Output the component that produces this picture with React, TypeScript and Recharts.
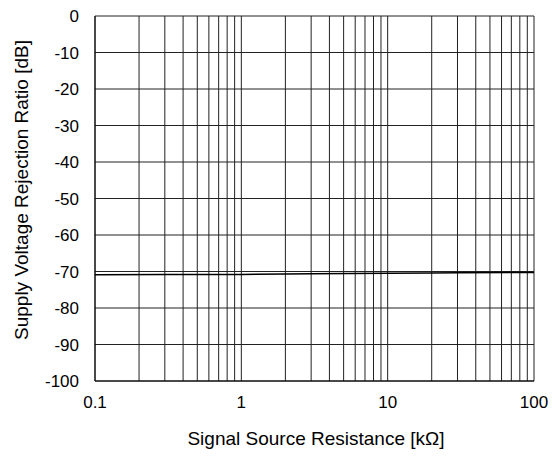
import React from 'react';
import { LineChart, Line, XAxis, YAxis, CartesianGrid } from 'recharts';

const resistance = [0.1, 0.3, 1, 3, 10, 30, 100];
const svrr = [-70.9, -70.85, -70.8, -70.65, -70.5, -70.35, -70.25];

const xTicks = [
  0.1, 0.2, 0.3, 0.4, 0.5, 0.6, 0.7, 0.8, 0.9,
  1, 2, 3, 4, 5, 6, 7, 8, 9,
  10, 20, 30, 40, 50, 60, 70, 80, 90, 100,
];
const xLabels = [0.1, 1, 10, 100];
const yTicks = [0, -10, -20, -30, -40, -50, -60, -70, -80, -90, -100];

const data = resistance.map((r, i) => ({ r, v: svrr[i] }));

const font = '"Liberation Sans", Arial, sans-serif';

const App: React.FC = () => {
  return (
    <div style={{ position: 'absolute', left: 0, top: 0, width: 552, height: 459, fontFamily: font }}>
      <LineChart width={552} height={459} data={data} margin={{ top: 16, right: 18, bottom: 0, left: 0 }}>
        {/* title sits above the visible area, only descenders show */}
        <text x={152} y={-6} fontSize={19} fill="#000" fontFamily={font}>
          Supply Voltage Rejection Ratio
        </text>
        <text
          transform="translate(21,190) rotate(-90)"
          textAnchor="middle"
          dominantBaseline="central"
          fontSize={19}
          fill="#000"
          fontFamily={font}
        >
          Supply Voltage Rejection Ratio [dB]
        </text>
        <text x={316} y={438} textAnchor="middle" dominantBaseline="central" fontSize={19} fill="#000" fontFamily={font}>
          Signal Source Resistance [kΩ]
        </text>
        <CartesianGrid stroke="#222" strokeWidth={1} horizontal vertical />
        <XAxis
          dataKey="r"
          type="number"
          scale="log"
          domain={[0.1, 100]}
          ticks={xTicks}
          interval={0}
          allowDataOverflow
          tickFormatter={(v: number) => (xLabels.some((t) => Math.abs(t - v) < 1e-9) ? String(v) : '')}
          tickLine={false}
          axisLine={{ stroke: '#000' }}
          tick={{ fill: '#000', fontSize: 17, fontFamily: font, dy: 7 }}
          height={78}
        />
        <YAxis
          type="number"
          domain={[-100, 0]}
          ticks={yTicks}
          interval={0}
          tickLine={false}
          axisLine={{ stroke: '#000' }}
          tick={{ fill: '#000', fontSize: 17, fontFamily: font, dx: -8 }}
          width={95}
        />
        <Line
          type="monotone"
          dataKey="v"
          stroke="#000"
          strokeWidth={1.5}
          dot={false}
          isAnimationActive={false}
        />
      </LineChart>
    </div>
  );
};

export default App;
